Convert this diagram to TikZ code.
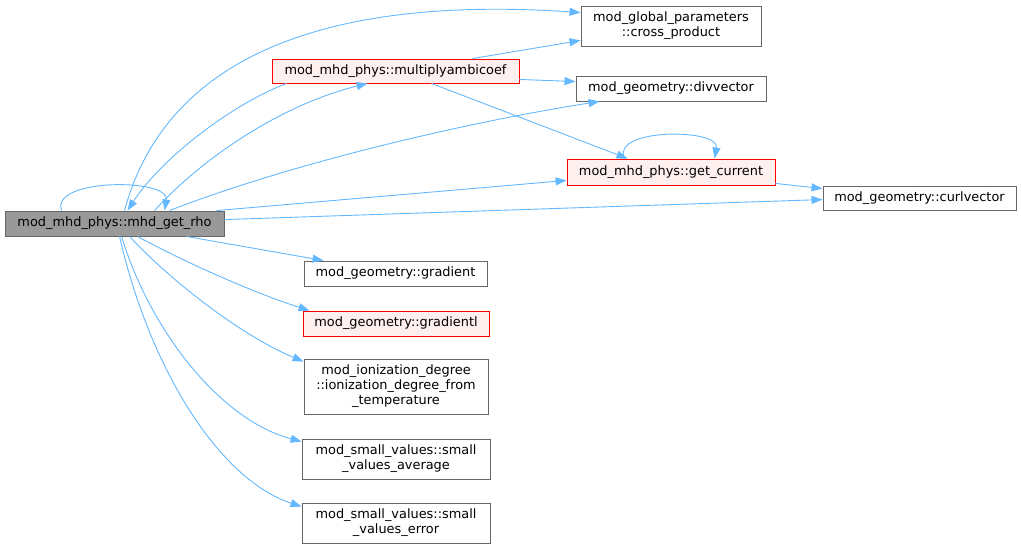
\documentclass[tikz,border=0pt]{standalone}
\usepackage{fontspec}
\setmainfont{DejaVu Sans}
\usetikzlibrary{arrows.meta}
\definecolor{edgeblue}{HTML}{63B8FF}
\definecolor{boxgray}{HTML}{666666}
\definecolor{maingray}{HTML}{999999}
\definecolor{redfill}{HTML}{FFF0F0}
\begin{document}
\begin{tikzpicture}[x=1pt, y=-1pt]
                    \tikzset{fn/.style={draw=boxgray, fill=white, line width=0.9pt, inner sep=0pt, align=center, font=\fontsize{12.9}{15}\selectfont},
                        mainfn/.style={fn, fill=maingray},
                        redfn/.style={fn, draw=red, fill=redfill},
                        call/.style={draw=edgeblue, line width=0.9pt, -{Triangle[length=11pt, width=8pt]}}}
                    \useasboundingbox (0,0) rectangle (1021,549);
                    \node[mainfn, minimum width=219pt, minimum height=25pt] (rho) at (114.5,223.5) {mod\_mhd\_phys::mhd\_get\_rho}; %root
                    \node[redfn, minimum width=247pt, minimum height=24pt] (multi) at (395.5,71) {mod\_mhd\_phys::multiplyambicoef};
                    \node[fn, minimum width=180pt, minimum height=40pt] (cross) at (671,26) {mod\_global\_parameters\\::cross\_product};
                    \node[fn, minimum width=190pt, minimum height=25pt] (divv) at (671,88.5) {mod\_geometry::divvector};
                    \node[redfn, minimum width=208pt, minimum height=26pt] (curr) at (671,172) {mod\_mhd\_phys::get\_current};
                    \node[fn, minimum width=193pt, minimum height=24pt] (curl) at (919.5,198) {mod\_geometry::curlvector};
                    \node[fn, minimum width=183pt, minimum height=25pt] (grad) at (395.5,273.5) {mod\_geometry::gradient};
                    \node[redfn, minimum width=186pt, minimum height=25pt] (gradl) at (396,323.5) {mod\_geometry::gradientl};
                    \node[fn, minimum width=184pt, minimum height=55pt] (ion) at (396,386.5) {mod\_ionization\_degree\\::ionization\_degree\_from\\\_temperature};
                    \node[fn, minimum width=188pt, minimum height=40pt] (savg) at (396,459) {mod\_small\_values::small\\\_values\_average};
                    \node[fn, minimum width=188pt, minimum height=40pt] (serr) at (396,523) {mod\_small\_values::small\\\_values\_error};
                    % calls from the root, upwards
                    \draw[call] ([xshift=120pt]rho.north west) .. controls (165,60) and (320,-5) .. ([yshift=-7pt]cross.north west);
                    \draw[call] ([xshift=15pt]multi.south west) .. controls (230,105) and (160,160) .. ([xshift=123pt]rho.north west);
                    \draw[call] ([xshift=150pt]rho.north west) .. controls (200,160) and (280,105) .. ([xshift=96pt]multi.south west);
                    \draw[call] ([xshift=165pt]rho.north west) .. controls (300,160) and (480,120) .. ([xshift=24pt]divv.south west);
                    \draw[call] ([xshift=57pt]rho.north west) .. controls (50,178) and (170,178) .. ([xshift=160pt]rho.north west); %self
                    \draw[call] ([xshift=212pt]rho.north west) -- ([yshift=5pt]curr.south west);
                    \draw[call] ([yshift=-9pt]rho.north east) -- ([yshift=-14pt]curl.north west);
                    % calls of the other red nodes
                    \draw[call] ([yshift=2pt]curr.south east) -- ([yshift=-3pt]curl.north west);
                    \draw[call] ([xshift=58pt]curr.north west) .. controls (610,128) and (720,128) .. ([xshift=148pt]curr.north west); %self
                    \draw[call] ([xshift=201pt]multi.north west) -- ([yshift=6pt]cross.south west);
                    \draw[call] ([yshift=4pt]multi.south east) -- ([yshift=-6pt]divv.north west);
                    \draw[call] ([xshift=160pt]multi.south west) -- ([xshift=61pt]curr.north west);
                    % calls from the root, downwards
                    \draw[call] ([xshift=182pt]rho.south west) -- ([xshift=20pt]grad.north west);
                    \draw[call] ([xshift=133pt]rho.south west) .. controls (190,265) and (260,295) .. ([xshift=7pt]gradl.north west);
                    \draw[call] ([xshift=125pt]rho.south west) .. controls (170,280) and (240,335) .. ([yshift=-3pt]ion.north west);
                    \draw[call] ([xshift=117pt]rho.south west) .. controls (150,330) and (220,420) .. ([yshift=-3pt]savg.north west);
                    \draw[call] ([xshift=115pt]rho.south west) .. controls (150,370) and (220,480) .. ([yshift=-4pt]serr.north west);
                \end{tikzpicture}
\end{document}
